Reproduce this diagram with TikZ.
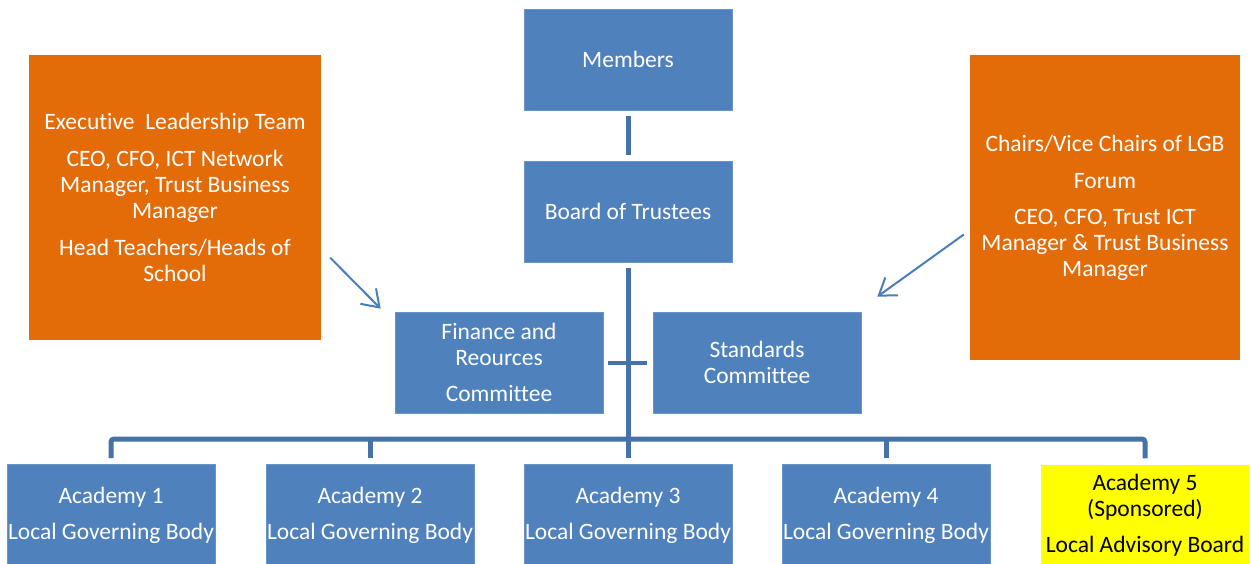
\documentclass[tikz,border=0pt]{standalone}
\usepackage{fontspec}
\setmainfont{Carlito}[Ligatures=NoCommon]
\usetikzlibrary{arrows.meta,calc}
\definecolor{boxblue}{HTML}{4F81BD}
\definecolor{linkblue}{HTML}{4572A8}
\definecolor{arrowblue}{HTML}{4A7EBB}
\definecolor{teamorange}{HTML}{E36C09}
\definecolor{sponsoryellow}{HTML}{FFFF00}
\tikzset{
  box/.style={rectangle, inner sep=0pt, align=center, text=white,
    font=\fontsize{23.5pt}{26pt}\selectfont},
  bluebox/.style={box, fill=boxblue, draw=boxblue!85!white, line width=0.6pt,
    minimum width=208pt, minimum height=101pt},
  orangebox/.style={box, fill=teamorange},
  yellowbox/.style={box, fill=sponsoryellow, text=black,
    minimum width=208pt, minimum height=101pt},
  conn/.style={draw=linkblue, line width=5pt},
  arr/.style={draw=arrowblue, line width=2pt,
    -{Straight Barb[length=16pt,width=22pt,line width=2pt]}}
}
\begin{document}
\begin{tikzpicture}[x=1pt,y=-1pt]
\useasboundingbox (0,0) rectangle (1251,564);

% governance tree
\node[bluebox] (members) at (628,59.5) {Members};
\node[bluebox] (board) at (628,211.5) {Board of Trustees};
\node[bluebox] (fin) at (499,362.5) {Finance and\\Reources\\[10pt]Committee};
\node[bluebox] (std) at (757,362.5) {Standards\\Committee};

% advisory groups
\node[orangebox, minimum width=292pt, minimum height=284pt] (ltb) at (175,197.5)
  {Executive\ \ Leadership Team\\[11pt]CEO, CFO, ICT Network\\Manager, Trust Business\\Manager\\[11pt]Head Teachers/Heads of\\School};
\node[orangebox, minimum width=270pt, minimum height=304pt] (rtb) at (1105,207.5)
  {Chairs/Vice Chairs of LGB\\[11pt]Forum\\[10pt]CEO, CFO, Trust ICT\\Manager \& Trust Business\\Manager};

% academies
\node[bluebox] (a1) at (111,515) {Academy 1\\[10pt]Local Governing Body};
\node[bluebox] (a2) at (370,515) {Academy 2\\[10pt]Local Governing Body};
\node[bluebox] (a3) at (628,515) {Academy 3\\[10pt]Local Governing Body};
\node[bluebox] (a4) at (886,515) {Academy 4\\[10pt]Local Governing Body};
\node[yellowbox] (a5) at (1145,515) {Academy 5\\(Sponsored)\\[10pt]Local Advisory Board};

% connectors
\coordinate (bus) at (628,439);
\draw[conn] ([yshift=-6pt]members.south) -- ([yshift=6pt]board.north);
\draw[conn] ([yshift=-6pt]board.south) -- ([yshift=6pt]a3.north);
\draw[conn, line width=4pt] ([xshift=5pt]fin.east) -- ([xshift=-6pt]std.west);
\draw[conn, rounded corners=3pt] ([yshift=6pt]a1.north) -- (a1.north |- bus)
  -- (a5.north |- bus) -- ([yshift=6pt]a5.north);
\draw[conn] (a2.north |- bus) -- ([yshift=6pt]a2.north);
\draw[conn] (a4.north |- bus) -- ([yshift=6pt]a4.north);

% reporting arrows
\draw[arr] ($(ltb.south east)+(9,-82)$) -- ($(fin.north west)+(-14,-3)$);
\draw[arr] ($(rtb.west)+(-6,27)$) -- ($(std.north east)+(16,-15)$);
\end{tikzpicture}
\end{document}
